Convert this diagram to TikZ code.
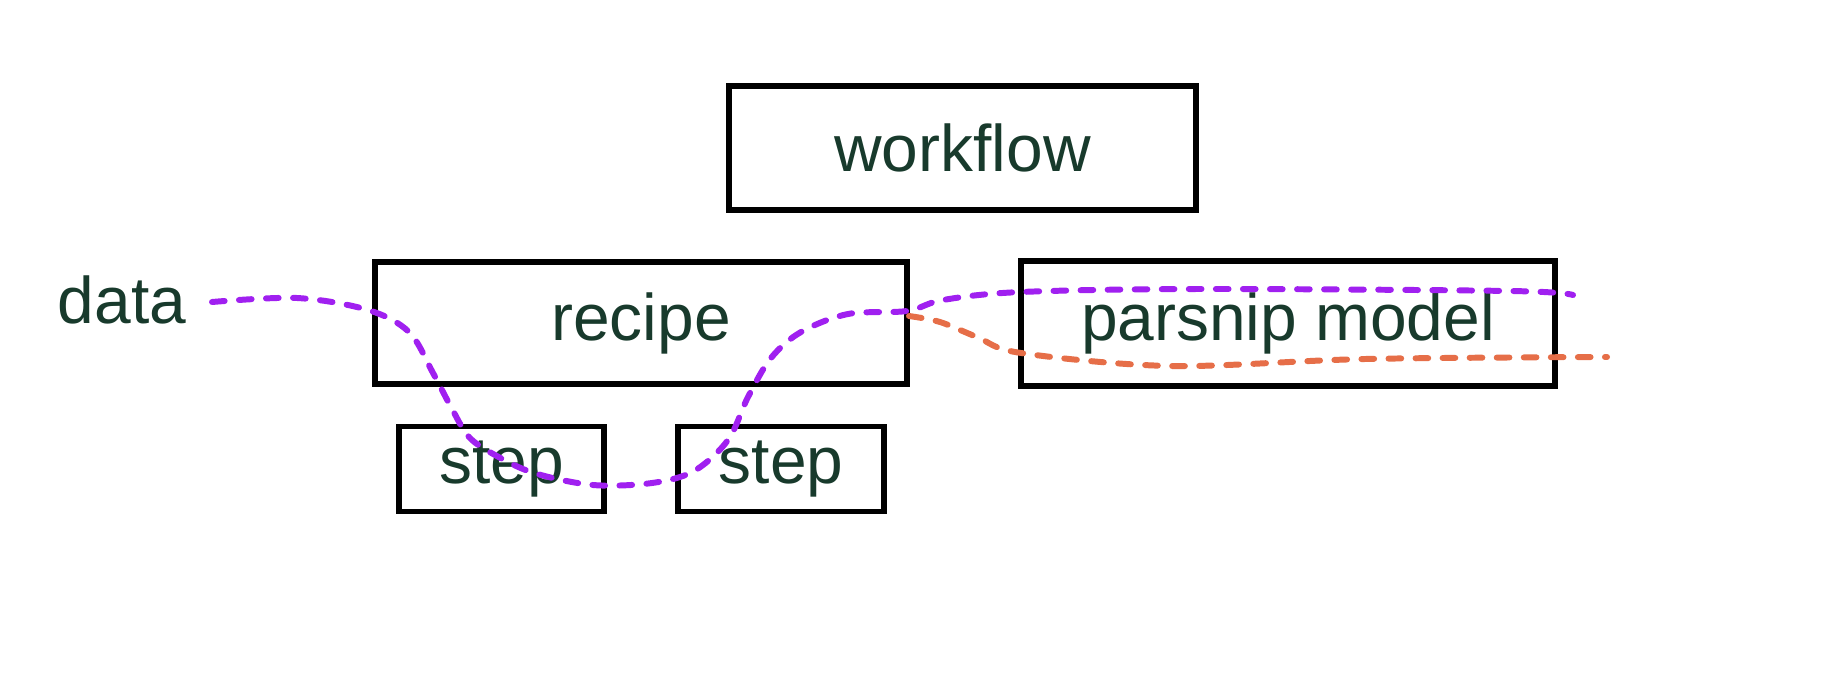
\documentclass[tikz,border=0pt]{standalone}
\usepackage{fontspec}
\setmainfont{Liberation Sans}
\definecolor{txtgreen}{RGB}{24,58,44}
\definecolor{pathpurple}{RGB}{160,32,240}
\definecolor{pathorange}{RGB}{230,110,72}
\begin{document}
\begin{tikzpicture}[x=0.02cm,y=-0.02cm,
  box/.style={draw=black,line width=3.2pt,fill=white,inner sep=0pt,
    text=txtgreen,font=\fontsize{37.5}{40}\selectfont},
  lbl/.style={inner sep=0pt,text=txtgreen,font=\fontsize{37.5}{40}\selectfont},
  flow/.style={line width=3.4pt,line cap=round,dash pattern=on 7.2pt off 8.2pt}]
\useasboundingbox (0,0) rectangle (1824,696);
\node[box,minimum width=9.34cm,minimum height=2.48cm] (wf) at (962.5,148) {workflow};
\node[box,minimum width=10.64cm,minimum height=2.44cm] (rec) at (641,323) {recipe};
\node[box,minimum width=4.1cm,minimum height=1.7cm] (s1) at (501.5,469) {step};
\node[box,minimum width=4.12cm,minimum height=1.7cm] (s2) at (781,469) {step};
\node[box,minimum width=10.68cm,minimum height=2.5cm] (pm) at (1288,323.5) {parsnip model};
\node[lbl] (data) at (122,300) {data};
\coordinate (pstart) at (212,302);
\coordinate (pend) at (1573,295);
\coordinate (ostart) at (909,316);
\coordinate (oend) at (1607,357);
\draw[flow,pathpurple] plot[smooth,tension=0.55] coordinates {
 (pstart) (297,298) (368,310) (409,332) (433,373) (451,407) (469,437) (495,455)
 (534,473) (593,485) (652,483) (694,471) (728,440) (748,397) (771,358)
 (801,332) (848,314) (907,311) (943,300) (1021,292) (1200,289) (1510,291) (pend)};
\draw[flow,pathorange] plot[smooth,tension=0.55] coordinates {
 (ostart) (940,322) (977,337) (1021,353) (1171,366) (1365,359) (oend)};
\end{tikzpicture}
\end{document}
